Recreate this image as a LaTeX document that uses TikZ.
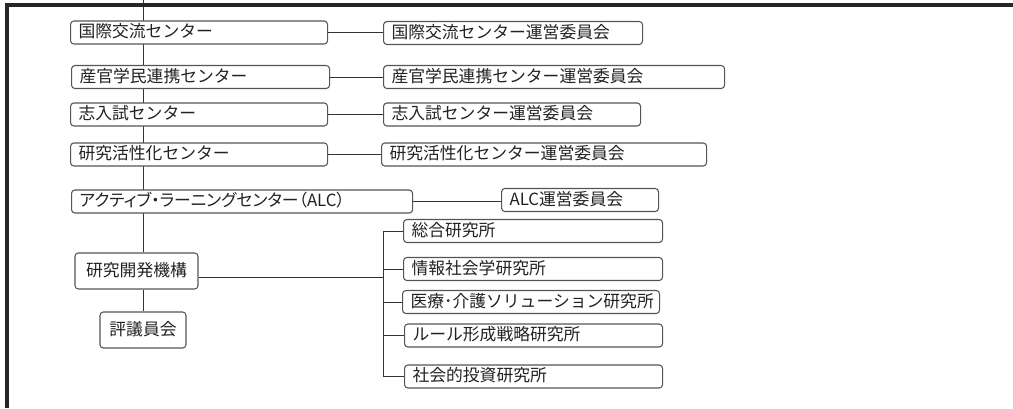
\documentclass[tikz,border=0pt]{standalone}
\usepackage{fontspec}
\newfontfamily\jp{Noto Sans CJK JP}
\newfontfamily\jpp[RawFeature=+palt]{Noto Sans CJK JP}
\usetikzlibrary{backgrounds}
\newlength\px
\setlength\px{0.75pt}
\newcommand\tb[2]{\makebox[\dimexpr #1\px-12pt\relax][l]{#2}}
\definecolor{tx}{HTML}{222222}
\definecolor{bd}{HTML}{555555}
\definecolor{ln}{HTML}{333333}
\definecolor{fr}{HTML}{262626}
\tikzset{
  lb/.style={draw=bd, fill=white, line width=0.8pt, rounded corners=2.5pt,
    inner xsep=6pt, inner ysep=0pt, anchor=west, text=tx,
    font=\jp\fontsize{12.6pt}{14pt}\selectfont, text height=0.88em, text depth=0.12em,
    minimum height=23\px},
  cb/.style={lb, anchor=center, minimum height=36\px},
  conn/.style={draw=ln, line width=0.75pt},
  frame/.style={draw=fr, line width=3pt}
}
\begin{document}
\begin{tikzpicture}[x=0.75pt, y=-0.75pt]
\useasboundingbox (0,0) rectangle (1013,408);
% left column
\node[lb] (l1) at (70,32.5) {\tb{257}{国際交流センター}};
\node[lb] (l2) at (71,77) {\tb{258}{産官学民連携センター}};
\node[lb] (l3) at (70,114.5) {\tb{257}{志入試センター}};
\node[lb] (l4) at (70,154.5) {\tb{257}{研究活性化センター}};
\node[lb] (l5) at (71,201.5) {\tb{341}{\jpp アクティブ・ラーニングセンター（ALC）}};
% committees
\node[lb] (r1) at (383,33) {\tb{259}{国際交流センター運営委員会}};
\node[lb] (r2) at (383,77) {\tb{341}{産官学民連携センター運営委員会}};
\node[lb] (r3) at (383,114.5) {\tb{257}{志入試センター運営委員会}};
\node[lb] (r4) at (381,154.5) {\tb{325}{研究活性化センター運営委員会}};
\node[lb] (r5) at (501,200) {\tb{157}{ALC運営委員会}};
% research institutes
\node[lb] (s1) at (403,231) {\tb{259}{総合研究所}};
\node[lb] (s2) at (403,269) {\tb{259}{情報社会学研究所}};
\node[lb] (s3) at (402,302) {\tb{257}{医療\hbox{･}介護ソリューション研究所}};
\node[lb] (s4) at (404,335.5) {\tb{258}{ルール形成戦略研究所}};
\node[lb] (s5) at (404,376.5) {\tb{258}{社会的投資研究所}};
% organization
\node[cb, minimum width=123\px] (k) at (136.5,271) {研究開発機構};
\node[cb, minimum width=86\px] (h) at (143,330) {評議員会};
\coordinate (top) at (143,0);
\coordinate (bx) at (383,277);
\coordinate (fa) at (7,408);
\coordinate (fb) at (7,5);
\coordinate (fc) at (1013,5);
\begin{scope}[on background layer]
\draw[conn] (top) -- (top |- k.north);
\draw[conn] (h.north |- k.south) -- (h.north);
\end{scope}
\draw[conn] (l1.east) -- (l1.east -| r1.west);
\draw[conn] (l2.east) -- (l2.east -| r2.west);
\draw[conn] (l3.east) -- (l3.east -| r3.west);
\draw[conn] (l4.east) -- (l4.east -| r4.west);
\draw[conn] (l5.east) -- (l5.east -| r5.west);
\draw[conn] (k.east |- bx) -- (bx);
\draw[conn] (s1.west) -- (s1.west -| bx) -- (s5.west -| bx) -- (s5.west);
\draw[conn] (s2.west) -- (s2.west -| bx);
\draw[conn] (s3.west) -- (s3.west -| bx);
\draw[conn] (s4.west) -- (s4.west -| bx);
\draw[frame] (fa) -- (fb) -- (fc);
\end{tikzpicture}
\end{document}
